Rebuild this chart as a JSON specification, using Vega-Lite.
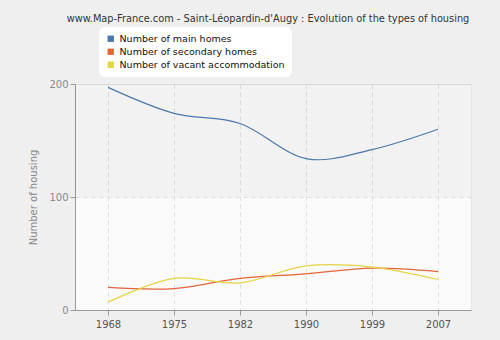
{
  "$schema": "https://vega.github.io/schema/vega-lite/v6.json",
  "width": 396,
  "height": 226,
  "autosize": "none",
  "padding": {"left": 75, "top": 84, "right": 29, "bottom": 30},
  "background": "#efefef",
  "title": {
    "text": "www.Map-France.com - Saint-Léopardin-d'Augy : Evolution of the types of housing",
    "font": "DejaVu Sans",
    "fontSize": 9.8,
    "fontWeight": "normal",
    "color": "#333333",
    "anchor": "middle",
    "dx": -5,
    "offset": 3
  },
  "config": {
    "view": {"fill": "#fafafa", "stroke": "#e4e4e4"},
    "font": "DejaVu Sans"
  },
  "data": {
    "values": [
      {"year": "1968", "type": "Number of main homes", "value": 197},
      {"year": "1975", "type": "Number of main homes", "value": 174},
      {"year": "1982", "type": "Number of main homes", "value": 165},
      {"year": "1990", "type": "Number of main homes", "value": 134},
      {"year": "1999", "type": "Number of main homes", "value": 142},
      {"year": "2007", "type": "Number of main homes", "value": 160},
      {"year": "1968", "type": "Number of secondary homes", "value": 20},
      {"year": "1975", "type": "Number of secondary homes", "value": 19},
      {"year": "1982", "type": "Number of secondary homes", "value": 28},
      {"year": "1990", "type": "Number of secondary homes", "value": 32},
      {"year": "1999", "type": "Number of secondary homes", "value": 37},
      {"year": "2007", "type": "Number of secondary homes", "value": 34},
      {"year": "1968", "type": "Number of vacant accommodation", "value": 7},
      {"year": "1975", "type": "Number of vacant accommodation", "value": 28},
      {"year": "1982", "type": "Number of vacant accommodation", "value": 24},
      {"year": "1990", "type": "Number of vacant accommodation", "value": 39},
      {"year": "1999", "type": "Number of vacant accommodation", "value": 38},
      {"year": "2007", "type": "Number of vacant accommodation", "value": 27}
    ]
  },
  "layer": [
    {
      "data": {"values": [{"band": "upper"}]},
      "mark": {"type": "rect", "fill": "#000000", "fillOpacity": 0.03, "strokeWidth": 0},
      "encoding": {
        "y": {"datum": 100, "type": "quantitative", "scale": {"domain": [0, 200]}},
        "y2": {"datum": 200}
      }
    },
    {
      "mark": {"type": "line", "interpolate": "cardinal", "strokeWidth": 1.2},
      "encoding": {
        "x": {
          "field": "year", "type": "ordinal",
          "scale": {"type": "point", "padding": 0.5},
          "axis": {
            "title": null, "labelAngle": 0, "labelColor": "#555555", "labelFontSize": 10,
            "domainColor": "#999999", "tickColor": "#999999", "tickSize": 5,
            "grid": true, "gridColor": "#dddddd", "gridDash": [4, 4], "labelPadding": 4
          }
        },
        "y": {
          "field": "value", "type": "quantitative",
          "scale": {"domain": [0, 200]},
          "axis": {
            "values": [0, 100, 200], "title": "Number of housing", "titleColor": "#888888",
            "titleFontSize": 10, "titleFontWeight": "normal", "titlePadding": 10,
            "labelColor": "#888888", "labelFontSize": 10,
            "domainColor": "#999999", "tickColor": "#999999", "tickSize": 5,
            "grid": true, "gridColor": "#dddddd", "gridDash": [4, 4]
          }
        },
        "color": {
          "field": "type", "type": "nominal",
          "scale": {
            "domain": ["Number of main homes", "Number of secondary homes", "Number of vacant accommodation"],
            "range": ["#4a77ad", "#e4643a", "#e6d443"]
          },
          "legend": {
            "title": null, "orient": "none", "legendX": 24, "legendY": -57,
            "symbolType": "square", "symbolSize": 40,
            "labelFontSize": 9.5, "labelColor": "#111111",
            "fillColor": "white", "cornerRadius": 6, "padding": 7, "rowPadding": 2,
            "labelLimit": 300,
            "encode": {
              "symbols": {
                "update": {
                  "fill": {"scale": "color", "field": "value"},
                  "strokeWidth": {"value": 0}
                }
              }
            }
          }
        }
      }
    }
  ]
}
